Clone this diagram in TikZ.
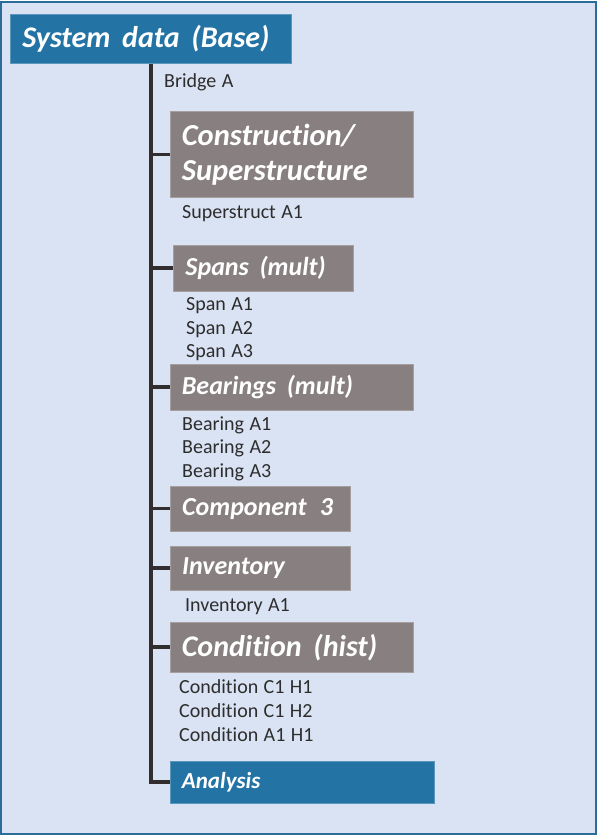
\documentclass[tikz,border=0pt]{standalone}
\usepackage{fontspec}
\setmainfont[WordSpace=1.2,Ligatures={NoCommon,NoDiscretionary}]{Carlito}
\definecolor{bgc}{RGB}{218,227,243}
\definecolor{frm}{RGB}{44,108,152}
\definecolor{bluebox}{RGB}{35,116,165}
\definecolor{greybox}{RGB}{135,127,128}
\definecolor{linec}{RGB}{50,45,46}
\definecolor{txtc}{RGB}{45,45,45}
\tikzset{
  hdr/.style={anchor=north west, inner xsep=12pt, inner ysep=0pt, align=left,
    text=white, font=\bfseries\itshape, line width=0.8pt},
  gbox/.style={hdr, fill=greybox, draw=greybox!75!white},
  bbox/.style={hdr, fill=bluebox, draw=bluebox!75!white},
  item/.style={anchor=base west, inner sep=0pt, text=txtc, font=\fontsize{20}{24}\selectfont},
  conn/.style={draw=linec, line width=3.5pt}
}
\newcommand{\fsz}[1]{\fontsize{#1}{#1}\selectfont}
\newcommand{\wsp}{\ \hspace{0.28em}}
\begin{document}
\begin{tikzpicture}[x=1pt,y=-1pt]
\useasboundingbox (0,0) rectangle (598,835);
\draw[fill=bgc, draw=frm, line width=2pt] (1,1.5) rectangle (596,833.5);

\node[bbox, minimum width=281pt, minimum height=49pt, text width=257pt] (sys) at (10,14) {\fsz{30}System\wsp data\wsp (Base)};

\node[gbox, minimum width=243pt, minimum height=86pt, text width=219pt,
  font=\bfseries\itshape\fontsize{30.5}{35}\selectfont] (con) at (169.5,111) {Construction/\\Superstructure};
\node[gbox, minimum width=180.5pt, minimum height=45.5pt, text width=156pt] (spa) at (172.8,245) {\fsz{26}Spans\wsp (mult)};
\node[gbox, minimum width=243pt, minimum height=45.5pt, text width=219pt] (bea) at (169.5,364) {\fsz{26}Bearings\wsp (mult)};
\node[gbox, minimum width=180.5pt, minimum height=44.5pt, text width=156pt] (com) at (169.5,486) {\fsz{26}Component\wsp\hspace{0.1em}3};
\node[gbox, minimum width=180.5pt, minimum height=44.5pt, text width=156pt] (inv) at (169.5,545.5) {\fsz{26}Inventory};
\node[gbox, minimum width=243pt, minimum height=49.5pt, text width=219pt] (cnd) at (169.5,622) {\fsz{30}Condition\wsp (hist)};
\node[bbox, minimum width=264pt, minimum height=41.5pt, text width=240pt] (ana) at (169.5,761) {\fsz{23}Analysis};

\coordinate (top) at (151,63.5);
\draw[conn] (top) |- (ana.west);
\foreach \b in {con,spa,bea,com,inv,cnd}{
  \draw[conn] (\b.west) -- (\b.west -| top);
}

\node[item] (brA) at (164,87) {Bridge A};
\node[item] (supA1) at (182,218) {Superstruct A1};
\node[item] (spA1) at (186,310) {Span A1};
\node[item] (spA2) at (186,334) {Span A2};
\node[item] (spA3) at (186,357) {Span A3};
\node[item] (beA1) at (182,430) {Bearing A1};
\node[item] (beA2) at (182,453.5) {Bearing A2};
\node[item] (beA3) at (182,477) {Bearing A3};
\node[item] (invA1) at (185,611) {Inventory A1};
\node[item] (cdA) at (179,693.5) {Condition C1 H1};
\node[item] (cdB) at (179,717.5) {Condition C1 H2};
\node[item] (cdC) at (179,741.5) {Condition A1 H1};
\end{tikzpicture}
\end{document}
